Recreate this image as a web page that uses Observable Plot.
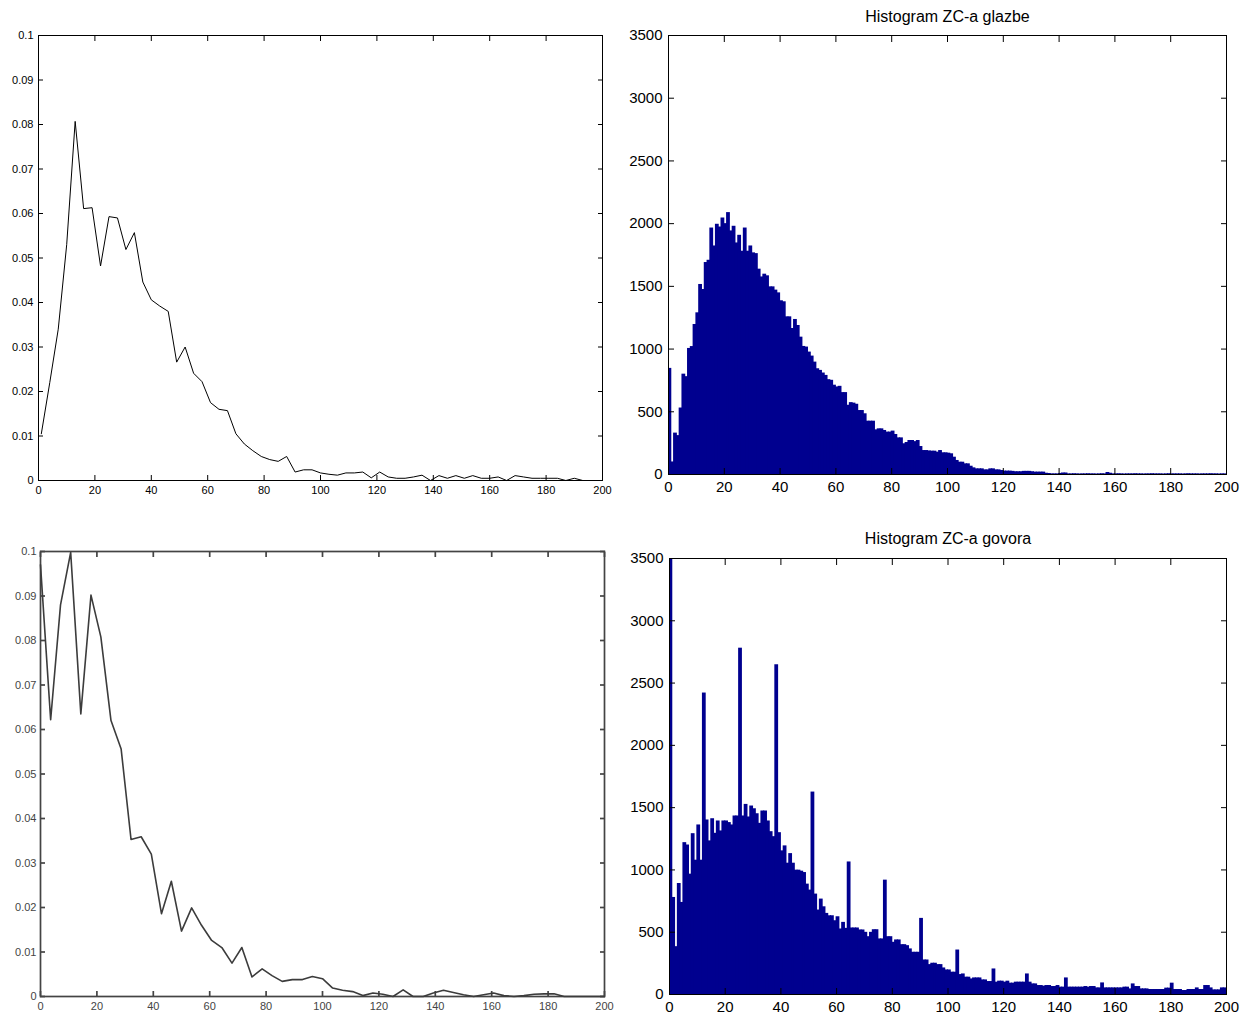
<!DOCTYPE html>
<html><head><meta charset="utf-8">
<script src="https://cdn.jsdelivr.net/npm/d3@7"></script>
<script src="https://cdn.jsdelivr.net/npm/@observablehq/plot@0.6"></script>
<style>
body{margin:0;background:#fff;}
#root{position:relative;width:1251px;height:1015px;overflow:hidden;background:#fff;}
.panel{position:absolute;}
.panel svg{display:block;overflow:visible;}
</style></head><body><div id="root"></div>
<script>
// ---- data ----
const musicLineX = [1,4,7,10,13,16,19,22,25,28,31,34,37,40,43,46,49,52,55,58,61,64,67,70,73,76,79,82,85,88,91,94,97,100,103,106,109,112,115,118,121,124,127,130,133,136,139,142,145,148,151,154,157,160,163,166,169,172,175,178,181,184,187,190,193,196,199];
const musicLineY = [0.0105,0.022,0.034,0.053,0.0807,0.0611,0.0613,0.0482,0.0593,0.059,
0.0519,0.0557,0.0446,0.0406,0.0392,0.038,0.0266,0.030,0.0241,0.0222,
0.0175,0.016,0.0157,0.0105,0.0082,0.0067,0.0054,0.0047,0.0043,0.0054,
0.0019,0.0024,0.0024,0.0017,0.0014,0.0012,0.0017,0.0017,0.0019,0.0006,
0.0019,0.0008,0.0005,0.0005,0.0008,0.0012,0,0.0011,0.0005,0.0011,
0.0005,0.0011,0.0005,0.0005,0.0008,0,0.0011,0.0008,0.0005,0.0005,
0.0005,0.0005,0,0.0005,0,0,0];

const speechLineX = [0,3.6,7.1,10.7,14.3,17.9,21.4,25,28.6,32.1,35.7,39.3,42.9,46.4,50,53.6,57.1,60.7,64.3,67.9,71.4,75,78.6,82.1,85.7,89.3,92.9,96.4,100,103.6,107.1,110.7,114.3,117.9,121.4,125,128.6,132.1,135.7,139.3,142.9,146.4,150,153.6,157.1,160.7,164.3,167.9,171.4,175,178.6,182.1,185.7,189.3,192.9,196.4,200];
const speechLineY = [0.097,0.0622,0.088,0.0998,0.0635,0.0902,0.0808,0.062,0.0556,0.0353,
0.0359,0.032,0.0186,0.0259,0.0147,0.0199,0.016,0.0126,0.011,0.0075,
0.011,0.0044,0.0062,0.0047,0.0034,0.0038,0.0038,0.0045,0.004,0.0019,
0.0014,0.0011,0.0002,0.0008,0.0005,0,0.0015,0,0,0.0008,
0.0014,0.0009,0.0004,0,0.0004,0.0008,0.0002,0,0.0002,0.0005,
0.0006,0.0006,0,0,0,0,0];

const musicHist = [
846,100,330,310,530,800,780,1005,1020,1196,
1289,1515,1475,1690,1708,1965,1822,1995,1973,2045,
2000,2088,1942,1979,1846,1907,1780,1965,1780,1822,
1767,1761,1637,1575,1597,1584,1496,1496,1470,1448,
1385,1377,1257,1257,1164,1236,1188,1095,1021,1016,
976,944,896,843,830,809,790,756,751,712,
698,703,653,653,552,573,569,560,510,510,
484,425,425,425,356,364,364,351,338,338,
346,319,292,292,245,255,271,271,262,271,
223,191,191,188,186,186,178,191,173,173,
170,165,138,112,98,98,85,85,66,53,
45,45,45,37,37,45,45,37,37,32,
27,27,27,25,22,22,22,25,25,25,
22,19,19,19,19,10,8,5,5,5,
8,12,12,5,5,6,5,4,5,5,
6,5,5,4,5,6,5,16,10,5,
5,6,5,4,5,5,5,6,5,5,
4,5,5,6,5,5,5,4,5,6,
5,5,5,5,4,5,6,5,5,5,
4,5,5,5,6,5,5,4,5,5];

const speechHist = [
3500,779,384,891,739,1219,1200,966,1291,1078,
1361,1078,2420,1401,1233,1411,1294,1393,1313,1393,
1393,1380,1361,1433,1433,2780,1433,1526,1425,1513,
1491,1451,1374,1473,1473,1393,1307,1267,2647,1299,
1153,1193,1054,1131,1054,998,998,990,979,886,
838,1625,806,678,766,704,651,632,632,592,
624,526,579,531,1064,534,534,534,518,518,
499,464,499,520,520,446,446,918,464,464,
419,438,438,400,400,392,366,339,339,339,
611,277,277,240,251,251,240,240,213,197,
197,179,179,357,160,165,139,139,125,133,
133,133,117,117,104,104,205,99,107,107,
99,107,91,91,99,99,99,99,165,99,
85,85,72,72,67,72,72,64,64,72,
59,59,133,59,59,59,59,59,59,64,
59,64,64,53,53,93,53,53,53,53,
53,53,53,59,59,45,85,64,64,45,
45,45,40,40,40,40,40,40,51,51,
91,40,40,40,32,32,40,40,40,53,
40,40,72,72,53,37,37,37,53,53];

const xTicks = [0,20,40,60,80,100,120,140,160,180,200];
const probTicks = [0,0.01,0.02,0.03,0.04,0.05,0.06,0.07,0.08,0.09,0.1];
const countTicks = [0,500,1000,1500,2000,2500,3000,3500];
const titles = ["Histogram ZC-a glazbe", "Histogram ZC-a govora"];

// ---- helpers ----
const blank = () => "";
function boxAxes({yTicks, yFormat, tickLen, xPad, yPad, color, sw}) {
  return [
    Plot.axisX(xTicks, {anchor: "bottom", tickSize: 0, tickPadding: xPad, label: null, fill: color}),
    Plot.axisX(xTicks, {anchor: "bottom", tickSize: tickLen, dy: -tickLen, tickFormat: blank, label: null, stroke: color, strokeWidth: sw}),
    Plot.axisX(xTicks, {anchor: "top", tickSize: tickLen, dy: tickLen, tickFormat: blank, label: null, stroke: color, strokeWidth: sw}),
    Plot.axisY(yTicks, {anchor: "left", tickSize: 0, tickPadding: yPad, tickFormat: yFormat, label: null, fill: color}),
    Plot.axisY(yTicks, {anchor: "left", tickSize: tickLen, dx: tickLen, tickFormat: blank, label: null, stroke: color, strokeWidth: sw}),
    Plot.axisY(yTicks, {anchor: "right", tickSize: tickLen, dx: -tickLen, tickFormat: blank, label: null, stroke: color, strokeWidth: sw}),
    Plot.frame({stroke: color, strokeWidth: sw})
  ];
}
const probFmt = d => String(+d.toFixed(2));
function place(svg, left, top) {
  const div = document.createElement("div");
  div.className = "panel";
  div.style.left = left + "px";
  div.style.top = top + "px";
  div.appendChild(svg);
  document.getElementById("root").appendChild(div);
}

// ---- top-left: music line ----
place(Plot.plot({
  width: 620, height: 510,
  marginLeft: 38, marginRight: 18, marginTop: 35, marginBottom: 30,
  style: {fontFamily: "'Liberation Sans', Arial, sans-serif", fontSize: "11px", color: "#000", background: "transparent"},
  x: {domain: [0, 200]},
  y: {domain: [0, 0.1]},
  marks: [
    ...boxAxes({yTicks: probTicks, yFormat: probFmt, tickLen: 5, xPad: 6, yPad: 5, color: "#000", sw: 1}),
    Plot.line(musicLineX.map((x, i) => ({x, y: musicLineY[i]})), {x: "x", y: "y", stroke: "#000", strokeWidth: 1})
  ]
}), 0, 0);

// ---- bottom-left: speech line ----
place(Plot.plot({
  width: 620, height: 500,
  marginLeft: 40, marginRight: 16, marginTop: 31, marginBottom: 24,
  style: {fontFamily: "'Liberation Sans', Arial, sans-serif", fontSize: "11px", color: "#222", background: "transparent"},
  x: {domain: [0, 200]},
  y: {domain: [0, 0.1]},
  marks: [
    ...boxAxes({yTicks: probTicks, yFormat: probFmt, tickLen: 5, xPad: 6, yPad: 4, color: "#444", sw: 1.7}),
    Plot.line(speechLineX.map((x, i) => ({x, y: speechLineY[i]})), {x: "x", y: "y", stroke: "#3c3c3c", strokeWidth: 1.6})
  ]
}), 0, 520);

// ---- histograms ----
const bins = d3.range(musicHist.length);
function histPlot(values, title, mt, ml, titleDy) {
  return Plot.plot({
    width: 631, height: 500,
    marginLeft: ml, marginRight: 25, marginTop: mt, marginBottom: 500 - mt - (mt === 35 ? 439 : 436),
    style: {fontFamily: "'Liberation Sans', Arial, sans-serif", fontSize: "15px", color: "#000", background: "transparent"},
    x: {domain: [0, 200]},
    y: {domain: [0, 3500]},
    marks: [
      Plot.rectY(bins, {x1: i => i, x2: i => i + 1, y: i => values[i], fill: "#00008f", insetLeft: -0.5, insetRight: -0.5, clip: true}),
      ...boxAxes({yTicks: countTicks, yFormat: d => String(d), tickLen: 6, xPad: 7, yPad: 6, color: "#000", sw: 1}),
      Plot.text([title], {frameAnchor: "top", dy: titleDy, fontSize: 16, fill: "#000"})
    ]
  });
}
place(histPlot(musicHist, titles[0], 35, 48, -25), 620, 0);
place(histPlot(speechHist, titles[1], 38, 49, -26), 620, 520);
</script></body></html>
